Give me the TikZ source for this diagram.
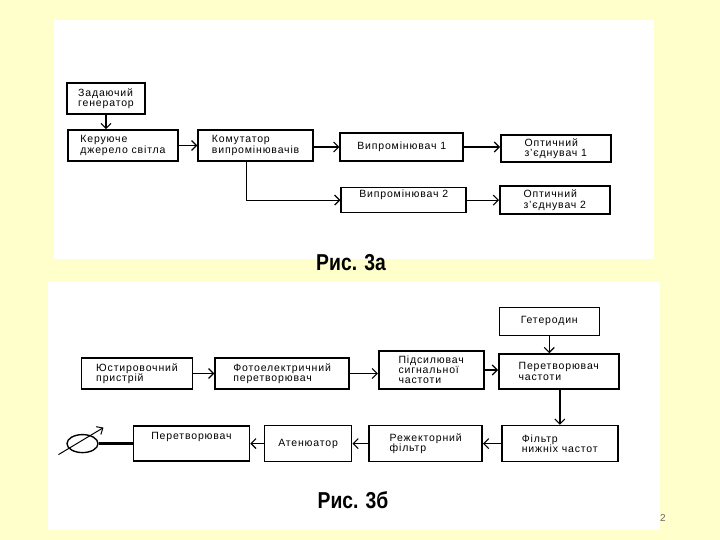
\documentclass[tikz,border=0pt]{standalone}
\usepackage{fontspec}
\setmainfont{Liberation Sans}
\newfontfamily\blkfont[LetterSpace=8]{Liberation Sans}
\newfontfamily\capfont[FakeStretch=0.84]{Liberation Sans}
\usepackage{tikz}
\usetikzlibrary{positioning,arrows.meta,shapes.geometric}

\definecolor{slidebg}{HTML}{FFFFCC}

\tikzset{
  blk/.style={draw, line width=1.6pt, align=left, inner sep=2pt,
    font=\blkfont\fontsize{10.5}{10.5}\selectfont},
  link/.style={->, line width=1.1pt},
  heavy/.style={-{Straight Barb[length=5pt,width=10pt,line width=1.1pt]}, line width=2.6pt},
  caption/.style={font=\capfont\bfseries\fontsize{23}{23}\selectfont}
}

\begin{document}
\begin{tikzpicture}[x=1pt, y=-1pt, >={Straight Barb[length=5pt,width=10pt]}]

  % slide and panels
  \fill[slidebg] (0,0) rectangle (720,540);
  \fill[white] (54,20) rectangle (654,259);
  \fill[white] (48,282) rectangle (660,530);
  \useasboundingbox (0,0) rectangle (720,540);

  % Fig 3a
  \node[blk, minimum width=78pt, minimum height=31pt] (zg) at (106,98.5) {Задаючий\\генератор}; %
  \node[blk, minimum width=110pt, minimum height=31pt] (kd) at (123,145.5) {Керуюче\\джерело світла}; %
  \node[blk, minimum width=115pt, minimum height=31pt, right=18.5pt of kd] (kom) {Комутатор\\випромінювачів}; %
  \node[blk, minimum width=123pt, minimum height=28pt, right=25.5pt of kom, yshift=-1.5pt] (v1) {Випромінювач 1}; %
  \node[blk, minimum width=110pt, minimum height=27pt, right=36pt of v1, yshift=-1.5pt] (o1) {Оптичний\\з’єднувач 1}; %
  \node[blk, minimum width=125pt, minimum height=25pt, below=25pt of v1, xshift=2pt] (v2) {Випромінювач 2\\[2pt]}; %
  \node[blk, minimum width=110pt, minimum height=28pt, right=32pt of v2] (o2) {Оптичний\\з’єднувач 2}; %

  \draw[link] (zg) -- (zg |- kd.north) ;
  \draw[link] (kd) -- (kom) ;
  \draw[link] (kom.east |- v1) -- (v1) ;
  \draw[heavy] (v1) -- (v1 -| o1.west) ;
  \draw[link] (kom.south -| 246.5,0) |- (v2.west) ;
  \draw[link] (v2) -- (v2 -| o2.west) ;

  \node[caption] (capa) at (351,263) {Рис. 3а}; %

  % Fig 3b
  \node[blk, minimum width=111pt, minimum height=31pt] (yust) at (137,373.5) {Юстировочний\\пристрій}; %
  \node[blk, minimum width=134pt, minimum height=31pt, right=21pt of yust] (foto) {Фотоелектричний\\перетворювач}; %
  \node[blk, minimum width=105pt, minimum height=38pt, right=28pt of foto, yshift=3.5pt, inner sep=1pt, font=\blkfont\fontsize{10.5}{10}\selectfont] (pids) {Підсилювач\\сигнальної\\частоти}; %
  \node[blk, minimum width=120pt, minimum height=35pt, right=13.5pt of pids, yshift=-1.5pt] (pch) {Перетворювач\\частоти}; %
  \node[blk, minimum width=100pt, minimum height=28pt, above=17pt of pch, xshift=-9.5pt] (get) {Гетеродин}; %
  \node[blk, minimum width=116pt, minimum height=36pt, below=35pt of pch, xshift=1pt] (fnch) {Фільтр\\нижніх частот}; %
  \node[blk, minimum width=113pt, minimum height=36pt, left=18pt of fnch] (rezh) {Режекторний\\фільтр}; %
  \node[blk, minimum width=87pt, minimum height=36pt, left=16pt of rezh] (aten) {Атенюатор}; %
  \node[blk, minimum width=116pt, minimum height=35pt, left=13.5pt of aten] (per) {Перетворювач\\[5pt]}; %
  \node[draw, ellipse, line width=1.4pt, minimum width=31pt, minimum height=18pt, inner sep=0pt, left=34pt of per] (meter) {}; %
  \coordinate (ptr-a) at ([shift={(-24pt,-11pt)}]meter.center) ;
  \coordinate (ptr-b) at ([shift={(21pt,16pt)}]meter.center) ;

  \draw[link] (yust) -- (yust -| foto.west) ;
  \draw[link] (foto) -- (foto -| pids.west) ;
  \draw[link] (pids) -- (pids -| pch.west) ;
  \draw[link] (get) -- (get |- pch.north) ;
  \draw[heavy] (pch.south -| fnch.north) -- (fnch) ;
  \draw[link] (fnch) -- (rezh) ;
  \draw[link] (rezh) -- (aten) ;
  \draw[link] (aten) -- (per) ;
  \draw[line width=2.4pt] (meter) -- (per) ;
  \draw[line width=1pt, -{Straight Barb[length=5pt,width=9pt]}] (ptr-a) -- (ptr-b) ;

  \node[caption] (capb) at (353,500) {Рис. 3б}; %
  \node[font=\fontsize{10}{10}\selectfont, text=black!60] (pgno) at (663,518) {2}; %

\end{tikzpicture}
\end{document}
